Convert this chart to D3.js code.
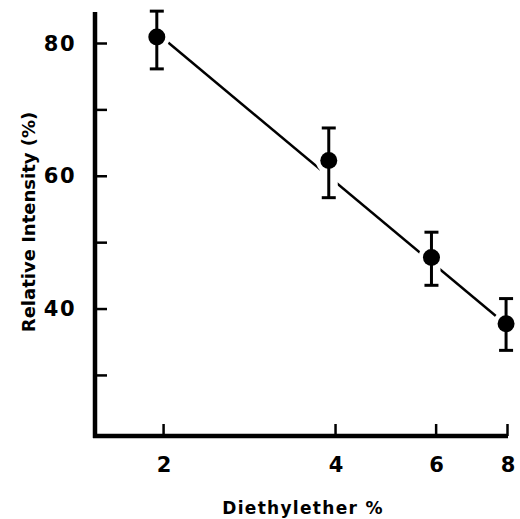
<!DOCTYPE html>
<html>
<head>
<meta charset="utf-8">
<script src="https://cdn.jsdelivr.net/npm/d3@7"></script>
<style>
  html, body { margin: 0; padding: 0; background: #fff; }
  svg { display: block; }
  text { font-family: "DejaVu Sans", sans-serif; font-weight: bold; fill: #000; }
</style>
</head>
<body>
<script>
// ---- data ----
const ether = [1.95, 3.9, 5.9, 7.97];          // Diethylether %
const intensity = [80.9, 62.3, 47.7, 37.7];    // Relative Intensity (%)
const errHigh = [84.8, 67.2, 51.5, 41.5];
const errLow = [76.1, 56.7, 43.5, 33.7];
const fitX = [1.95, 7.97];
const fitY = [81.5, 37.6];
const xTicks = [2, 4, 6, 8];
const yMajor = [40, 60, 80];
const yAllTicks = [30, 40, 50, 60, 70, 80];
const xTitle = "Diethylether %";
const yTitle = "Relative Intensity (%)";

const W = 520, H = 519;
const svg = d3.select("body").append("svg").attr("width", W).attr("height", H);

const x = d3.scaleLog().domain([1.52, 8]).range([95, 507]);
const y = d3.scaleLinear().domain([20.8, 84.67]).range([436, 12]);

// fit line
const pts = fitX.map((v, i) => [x(v), y(fitY[i])]);
svg.append("path")
  .attr("d", d3.line()(pts))
  .attr("stroke", "#000").attr("stroke-width", 2.5).attr("fill", "none");

// error bars + dots, with white halo to make gaps in the line
const g = svg.append("g");
ether.forEach((v, i) => {
  const cx = x(v);
  g.append("line").attr("x1", cx).attr("x2", cx)
    .attr("y1", y(errHigh[i])).attr("y2", y(errLow[i]))
    .attr("stroke", "#fff").attr("stroke-width", 18);
  g.append("circle").attr("cx", cx).attr("cy", y(intensity[i])).attr("r", 13).attr("fill", "#fff");
});
ether.forEach((v, i) => {
  const cx = x(v);
  g.append("line").attr("x1", cx).attr("x2", cx)
    .attr("y1", y(errHigh[i])).attr("y2", y(errLow[i]))
    .attr("stroke", "#000").attr("stroke-width", 3);
  [errHigh[i], errLow[i]].forEach(e => {
    g.append("line").attr("x1", cx - 7).attr("x2", cx + 7)
      .attr("y1", y(e)).attr("y2", y(e))
      .attr("stroke", "#000").attr("stroke-width", 3);
  });
  g.append("circle").attr("cx", cx).attr("cy", y(intensity[i])).attr("r", 8.5).attr("fill", "#000");
});

// y axis
const yAxis = d3.axisRight(y).tickValues(yAllTicks).tickSize(12).tickFormat("");
const ya = svg.append("g").attr("transform", "translate(95,0)").call(yAxis);
ya.select(".domain").remove();
ya.selectAll(".tick line").attr("stroke", "#000").attr("stroke-width", 2.5);
svg.append("line").attr("x1", 95).attr("x2", 95).attr("y1", 12).attr("y2", 438)
  .attr("stroke", "#000").attr("stroke-width", 4.5);
svg.append("g").selectAll("text").data(yMajor).join("text")
  .attr("x", 76).attr("y", d => y(d)).attr("dy", "0.36em")
  .attr("text-anchor", "end").style("font-size", "21px").style("letter-spacing", "1.5px").text(d => d);

// x axis
const xAxis = d3.axisTop(x).tickValues(xTicks).tickSize(12).tickFormat("");
const xa = svg.append("g").attr("transform", "translate(0,436)").call(xAxis);
xa.select(".domain").remove();
xa.selectAll(".tick line").attr("stroke", "#000").attr("stroke-width", 2.5);
svg.append("line").attr("x1", 93).attr("x2", 508).attr("y1", 436).attr("y2", 436)
  .attr("stroke", "#000").attr("stroke-width", 4.5);
svg.append("g").selectAll("text").data(xTicks).join("text")
  .attr("x", d => x(d) + 1).attr("y", 472)
  .attr("text-anchor", "middle").style("font-size", "21px").text(d => d);

// titles
svg.append("text").attr("x", 303).attr("y", 514).attr("text-anchor", "middle")
  .style("font-size", "17px").style("letter-spacing", "1.3px").text(xTitle);
svg.append("text").attr("transform", "translate(35,222) rotate(-90)")
  .attr("text-anchor", "middle").style("font-size", "18px").text(yTitle);
</script>
</body>
</html>
